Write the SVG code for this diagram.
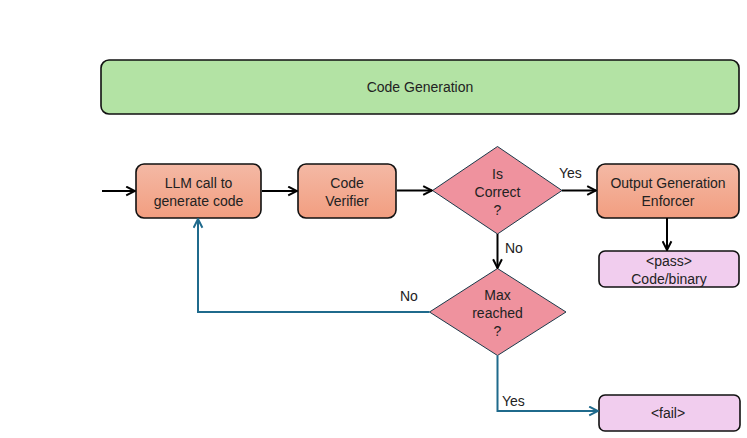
<svg xmlns="http://www.w3.org/2000/svg" width="747" height="438" viewBox="0 0 747 438">
<defs>
<linearGradient id="og" x1="0" y1="0" x2="0" y2="1">
<stop offset="0" stop-color="#f4b9a5"/>
<stop offset="1" stop-color="#f29e80"/>
</linearGradient>
<marker id="ab" viewBox="0 0 10 10" refX="9" refY="5" markerWidth="11" markerHeight="11" markerUnits="userSpaceOnUse" orient="auto">
<path d="M1,1 L9,5 L1,9" fill="none" stroke="#000" stroke-width="1.8"/>
</marker>
<marker id="au" viewBox="0 0 10 10" refX="9" refY="5" markerWidth="11" markerHeight="11" markerUnits="userSpaceOnUse" orient="auto">
<path d="M1,1 L9,5 L1,9" fill="none" stroke="#1f6a8c" stroke-width="1.8"/>
</marker>
</defs>
<style>
text{font-family:"Liberation Sans",Arial,sans-serif;font-size:14px;fill:#222;text-anchor:middle}
.box{fill:url(#og);stroke:#111;stroke-width:1.6}
.dia{fill:#ef929e;stroke:#1b3a4a;stroke-width:1}
.pk{fill:#f1cdee;stroke:#111;stroke-width:1.6}
.k{fill:none;stroke:#000;stroke-width:2;marker-end:url(#ab)}
.b{fill:none;stroke:#1f6a8c;stroke-width:2;marker-end:url(#au)}
.lbl{text-anchor:start}
</style>
<rect width="747" height="438" fill="#fff"/>
<g id="codegen">
<rect x="101" y="60" width="638" height="54" rx="8" fill="#b3e3a4" stroke="#111" stroke-width="1.6"/>
<text x="420" y="92">Code Generation</text>
</g>
<g id="llm">
<rect class="box" x="136" y="164" width="125" height="54" rx="8"/>
<text x="198.5" y="187.5">LLM call to</text>
<text x="198.5" y="205.5">generate code</text>
</g>
<g id="verifier">
<rect class="box" x="298" y="164" width="98" height="54" rx="8"/>
<text x="347" y="187.5">Code</text>
<text x="347" y="205.5">Verifier</text>
</g>
<g id="iscorrect">
<polygon class="dia" points="497.5,146.5 562,190.5 497.5,234 432.5,190.5"/>
<text x="497.5" y="178.5">Is</text>
<text x="497.5" y="196.5">Correct</text>
<text x="497.5" y="214.5">?</text>
</g>
<g id="enforcer">
<rect class="box" x="597" y="164" width="142" height="54" rx="8"/>
<text x="668" y="187.5">Output Generation</text>
<text x="668" y="205.5">Enforcer</text>
</g>
<g id="pass">
<rect class="pk" x="599" y="251" width="140" height="36" rx="6"/>
<text x="669" y="266">&lt;pass&gt;</text>
<text x="669" y="284">Code/binary</text>
</g>
<g id="maxreached">
<polygon class="dia" points="497.5,268.5 566,312 497.5,355.5 429.5,312"/>
<text x="497.5" y="299.5">Max</text>
<text x="497.5" y="317.5">reached</text>
<text x="497.5" y="335.5">?</text>
</g>
<g id="fail">
<rect class="pk" x="599" y="395" width="141" height="36" rx="6"/>
<text x="668" y="418">&lt;fail&gt;</text>
</g>
<g id="connectors">
<path class="k" d="M102,191 H135"/>
<path class="k" d="M262,191 H297"/>
<path class="k" d="M397,190.5 H432"/>
<path class="k" d="M562,190.5 H596"/>
<path class="k" d="M667,218 V250"/>
<path class="k" d="M497.5,234 V268"/>
<path class="b" d="M429.5,312 H198 V219"/>
<path class="b" d="M497.5,355.5 V411 H598"/>
<text class="lbl" x="559" y="178">Yes</text>
<text class="lbl" x="505" y="253">No</text>
<text class="lbl" x="400" y="301">No</text>
<text class="lbl" x="502" y="406">Yes</text>
</g>
</svg>
